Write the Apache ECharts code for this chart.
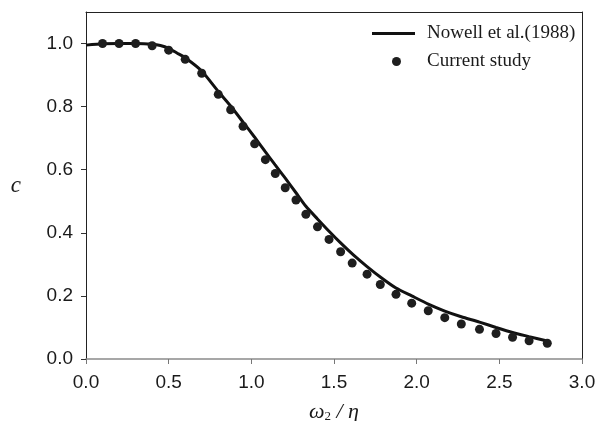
<!DOCTYPE html>
<html>
<head>
<meta charset="utf-8">
<script src="https://cdn.jsdelivr.net/npm/echarts@6/dist/echarts.min.js"></script>
<style>
  html, body { margin: 0; padding: 0; background: #fff; }
  #main { width: 606px; height: 421px; }
</style>
</head>
<body>
<div id="main"></div>
<script>
// Nowell et al.(1988) 曲线
var lineX = [0, 0.1, 0.2, 0.3, 0.4, 0.45, 0.5, 0.55, 0.6, 0.7, 0.8, 0.875, 0.95, 1.02, 1.083, 1.143, 1.204, 1.27, 1.33, 1.4, 1.47, 1.54, 1.617, 1.7, 1.79, 1.875, 1.97, 2.07, 2.17, 2.27, 2.38, 2.48, 2.58, 2.68, 2.79];
var lineY = [0.995, 0.999, 1.0, 1.0, 0.998, 0.994, 0.985, 0.97, 0.955, 0.913, 0.848, 0.802, 0.751, 0.703, 0.658, 0.616, 0.574, 0.527, 0.484, 0.444, 0.405, 0.368, 0.330, 0.293, 0.256, 0.225, 0.200, 0.174, 0.152, 0.134, 0.117, 0.100, 0.084, 0.071, 0.057];

// Current study 散点
var dotX = [0.1, 0.2, 0.3, 0.4, 0.5, 0.6, 0.7, 0.8, 0.875, 0.95, 1.02, 1.085, 1.145, 1.205, 1.27, 1.33, 1.4, 1.47, 1.54, 1.61, 1.7, 1.78, 1.875, 1.97, 2.07, 2.17, 2.27, 2.38, 2.48, 2.58, 2.68, 2.79];
var dotY = [1.0, 1.0, 1.0, 0.993, 0.979, 0.95, 0.906, 0.839, 0.79, 0.738, 0.682, 0.632, 0.588, 0.543, 0.504, 0.459, 0.419, 0.379, 0.34, 0.304, 0.269, 0.236, 0.205, 0.177, 0.153, 0.131, 0.111, 0.094, 0.081, 0.069, 0.058, 0.05];

// 刻度
var yTicks = [0, 0.2, 0.4, 0.6, 0.8, 1.0];

var lineName = 'Nowell et al.(1988)';
var dotName = 'Current study';

var myChart = echarts.init(document.getElementById('main'));

var tickFont = { fontFamily: 'Liberation Sans', fontSize: 19, color: '#1a1a1a' };
var legendText = { fontFamily: 'Liberation Serif', fontSize: 19, color: '#1a1a1a' };

var option = {
    animation: false,
    grid: { left: 86, right: 24, top: 12, bottom: 62, containLabel: false, outerBoundsMode: 'none' },
    legend: [
        {
            data: [{ name: lineName, icon: 'rect' }],
            left: 372, top: 24, padding: 0,
            itemWidth: 43, itemHeight: 3,
            textStyle: Object.assign({ padding: [0, 0, 0, 7] }, legendText)
        },
        {
            data: [{ name: dotName, icon: 'circle' }],
            left: 392, top: 52, padding: 0,
            itemWidth: 43, itemHeight: 9,
            textStyle: Object.assign({ padding: [0, 0, 0, 4] }, legendText)
        }
    ],
    xAxis: [
        {
            type: 'value', min: 0, max: 3, interval: 0.5,
            name: '{w|ω}{s|2}{w| / η}',
            nameLocation: 'middle', nameGap: 42,
            nameTextStyle: {
                rich: {
                    w: { fontFamily: 'Liberation Serif', fontStyle: 'italic', fontSize: 22, color: '#1a1a1a' },
                    s: { fontFamily: 'Liberation Serif', fontSize: 13, color: '#1a1a1a', padding: [9, 0, 0, 0] }
                }
            },
            axisLine: { lineStyle: { color: '#8a8a8a', width: 1.5 } },
            axisTick: { length: 5, inside: false, lineStyle: { color: '#777' } },
            axisLabel: Object.assign({ margin: 14, formatter: v => v.toFixed(1) }, tickFont),
            splitLine: { show: false }
        },
        {
            type: 'value', min: 0, max: 3, position: 'top',
            axisLine: { show: true, onZero: false, lineStyle: { color: '#222', width: 1 } },
            axisTick: { show: false }, axisLabel: { show: false }, splitLine: { show: false }
        }
    ],
    yAxis: [
        {
            type: 'value', min: 0, max: 1.1,
            name: 'c', nameLocation: 'middle', nameGap: 65, nameRotate: 0,
            nameTextStyle: { fontFamily: 'Liberation Serif', fontStyle: 'italic', fontSize: 23, color: '#1a1a1a' },
            axisLine: { show: true, lineStyle: { color: '#222', width: 1 } },
            axisTick: { show: true, length: 5, customValues: yTicks, lineStyle: { color: '#333' } },
            axisLabel: Object.assign({ margin: 13, customValues: yTicks, formatter: v => v.toFixed(1) }, tickFont),
            splitLine: { show: false }
        },
        {
            type: 'value', min: 0, max: 1.1, position: 'right',
            axisLine: { show: true, onZero: false, lineStyle: { color: '#222', width: 1 } },
            axisTick: { show: false }, axisLabel: { show: false }, splitLine: { show: false }
        }
    ],
    series: [
        {
            name: lineName, type: 'line',
            data: lineX.map((x, i) => [x, lineY[i]]),
            showSymbol: false, symbol: 'none', smooth: 0.2,
            color: '#111',
            lineStyle: { color: '#111', width: 3 },
            z: 3
        },
        {
            name: dotName, type: 'scatter',
            data: dotX.map((x, i) => [x, dotY[i]]),
            symbol: 'circle', symbolSize: 9,
            color: '#1e1e1e',
            itemStyle: { color: '#1e1e1e', opacity: 1 },
            z: 4
        }
    ]
};

myChart.setOption(option);
</script>
</body>
</html>
